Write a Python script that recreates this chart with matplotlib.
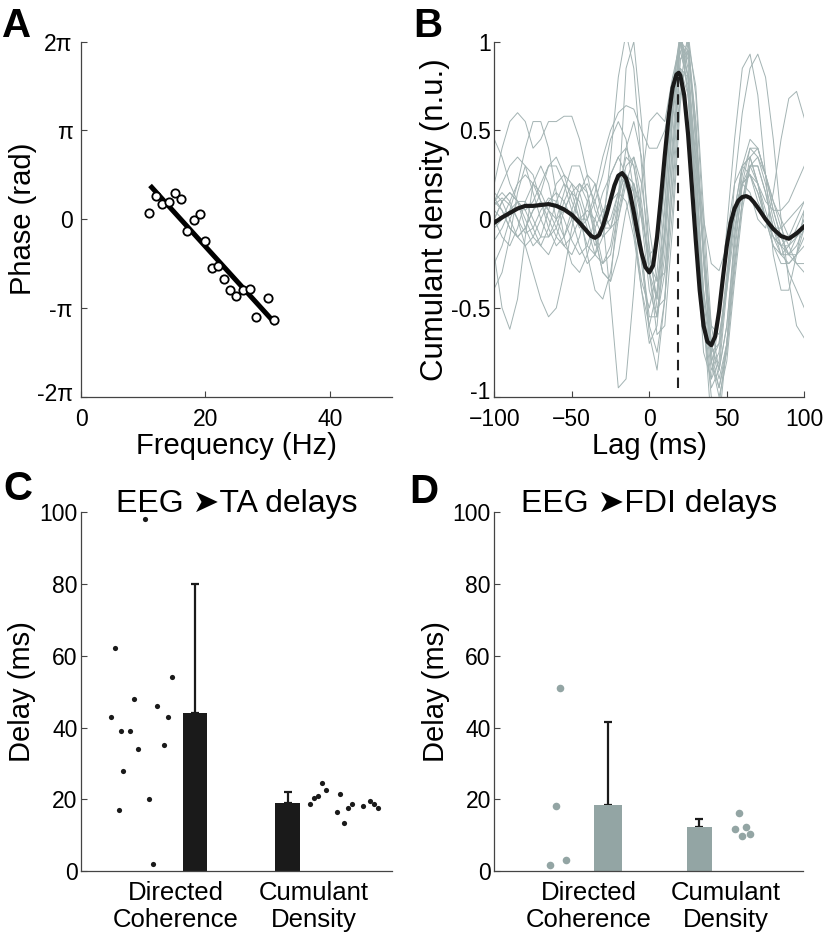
import numpy as np
import matplotlib
matplotlib.use('Agg')
import matplotlib.pyplot as plt
from matplotlib.transforms import ScaledTranslation

plt.rcParams['font.family'] = ['Liberation Sans', 'DejaVu Sans']

# ---- panel A: phase vs frequency ----
freq = [11, 12, 13, 14.2, 15.1, 16, 17, 18.1, 19.1, 20, 21, 22, 23, 24, 25, 26.1, 27.1, 28.1, 30.1, 31.1]
phase_pi = [0.075, 0.26, 0.17, 0.19, 0.29, 0.23, -0.13, -0.01, 0.06, -0.24, -0.55, -0.53,
            -0.67, -0.80, -0.87, -0.80, -0.79, -1.10, -0.89, -1.14]
fit_freq = [11.1, 31.3]
fit_phase_pi = [0.38, -1.18]

# ---- panel B: cumulant density ----
lag_mean = [-100, -95, -90, -85, -80, -75, -70, -65, -60, -55, -50, -45, -40, -37.5, -35, -32.5,
            -30, -27.5, -25, -22.5, -20, -17.5, -15, -12.5, -10, -7.5, -5, -2.5, 0, 2.5, 5, 7.5,
            10, 12.5, 15, 17.5, 19, 20, 22.5, 25, 27.5, 30, 32.5, 35, 37.5, 40, 42.5, 45, 47.5,
            50, 52.5, 55, 57.5, 60, 62.5, 65, 67.5, 70, 75, 80, 85, 90, 95, 100]
cum_mean = [-0.02, 0.01, 0.035, 0.06, 0.075, 0.075, 0.08, 0.085, 0.075, 0.055, 0.025, -0.02,
            -0.07, -0.095, -0.105, -0.09, -0.04, 0.03, 0.11, 0.19, 0.245, 0.26, 0.23, 0.15, 0.04,
            -0.08, -0.19, -0.27, -0.30, -0.26, -0.10, 0.12, 0.36, 0.58, 0.74, 0.815, 0.825, 0.81,
            0.70, 0.48, 0.18, -0.12, -0.40, -0.60, -0.69, -0.71, -0.66, -0.52, -0.33, -0.15,
            -0.02, 0.06, 0.105, 0.125, 0.13, 0.12, 0.095, 0.065, 0.0, -0.055, -0.095, -0.11,
            -0.08, -0.04]
peak_lag = 18.7

lag = list(range(-100, 101, 5))
subj_1 = [0.10, 0.20, 0.30, 0.35, 0.30, 0.15, 0.00, -0.10, -0.05, 0.10, 0.20, 0.15, 0.00, -0.15, -0.05, 0.35, 0.80, 1.05, 0.85, 0.30, -0.30, -0.45, -0.05, 0.60, 1.05, 0.80, 0.10, -0.60, -0.95, -0.85, -0.40, 0.05, 0.30, 0.35, 0.20, 0.00, -0.15, -0.20, -0.15, -0.05, 0.05]
subj_2 = [0.00, -0.10, -0.15, -0.05, 0.10, 0.20, 0.15, 0.05, 0.00, 0.05, 0.15, 0.20, 0.10, -0.10, -0.30, -0.35, 0.10, 0.85, 1.00, 0.55, -0.20, -0.45, 0.05, 0.75, 1.05, 0.70, -0.10, -0.75, -0.90, -0.55, -0.10, 0.20, 0.30, 0.25, 0.10, 0.00, -0.05, -0.05, 0.00, 0.05, 0.10]
subj_3 = [0.20, 0.40, 0.55, 0.60, 0.55, 0.40, 0.45, 0.55, 0.55, 0.58, 0.58, 0.45, 0.25, 0.05, -0.05, 0.00, 0.15, 0.25, 0.20, 0.00, -0.20, -0.15, 0.20, 0.70, 1.05, 0.85, 0.25, -0.40, -0.75, -0.70, -0.35, 0.00, 0.20, 0.25, 0.15, 0.00, -0.10, -0.15, -0.10, 0.00, 0.10]
subj_4 = [-0.20, -0.50, -0.62, -0.45, -0.10, 0.20, 0.30, 0.20, 0.00, -0.10, 0.00, 0.15, 0.20, 0.10, -0.05, -0.05, 0.10, 0.30, 0.35, 0.10, -0.30, -0.55, -0.30, 0.30, 0.90, 0.95, 0.50, -0.20, -0.75, -0.95, -0.75, -0.30, 0.10, 0.35, 0.40, 0.25, 0.05, -0.10, -0.20, -0.20, -0.15]
subj_5 = [0.10, 0.05, -0.05, -0.10, -0.05, 0.05, 0.10, 0.05, -0.05, -0.15, -0.20, -0.10, 0.10, 0.20, 0.00, -0.45, -0.95, -0.90, -0.40, 0.20, 0.55, 0.60, 0.55, 0.80, 1.00, 0.70, 0.10, -0.50, -0.85, -0.75, -0.35, 0.05, 0.30, 0.35, 0.20, 0.00, -0.15, -0.25, -0.25, -0.20, -0.10]
subj_6 = [-0.05, 0.00, 0.10, 0.20, 0.25, 0.20, 0.10, 0.00, -0.10, -0.15, -0.10, 0.00, 0.05, 0.00, -0.10, -0.05, 0.15, 0.35, 0.30, 0.00, -0.40, -0.55, -0.20, 0.45, 1.00, 0.90, 0.30, -0.40, -0.75, -0.55, -0.05, 0.45, 0.85, 0.93, 0.70, 0.25, -0.20, -0.40, -0.40, -0.20, 0.05]
subj_7 = [0.15, 0.10, 0.00, -0.10, -0.15, -0.10, 0.00, 0.10, 0.15, 0.10, 0.00, -0.15, -0.25, -0.20, 0.00, 0.25, 0.35, 0.25, -0.05, -0.40, -0.60, -0.40, 0.10, 0.65, 0.95, 0.75, 0.10, -0.55, -0.90, -0.80, -0.35, 0.20, 0.60, 0.85, 0.93, 0.80, 0.45, 0.00, -0.35, -0.60, -0.67]
subj_8 = [0.00, 0.10, 0.15, 0.10, 0.00, -0.10, -0.15, -0.05, 0.10, 0.20, 0.15, 0.00, -0.15, -0.20, -0.10, 0.10, 0.25, 0.20, -0.05, -0.35, -0.50, -0.30, 0.20, 0.75, 1.00, 0.80, 0.20, -0.45, -0.80, -0.70, -0.30, 0.05, 0.20, 0.15, 0.00, -0.05, 0.15, 0.45, 0.68, 0.72, 0.57]
subj_9 = [0.45, 0.35, 0.20, 0.10, 0.05, 0.10, 0.20, 0.30, 0.30, 0.20, 0.05, -0.05, 0.00, 0.15, 0.35, 0.50, 0.60, 0.64, 0.62, 0.50, 0.40, 0.40, 0.50, 0.70, 0.85, 0.70, 0.35, 0.00, -0.25, -0.29, -0.15, 0.05, 0.20, 0.25, 0.20, 0.10, 0.05, 0.05, 0.10, 0.20, 0.30]
subj_10 = [-0.39, -0.30, -0.10, 0.15, 0.30, 0.25, 0.10, -0.05, -0.15, -0.10, 0.05, 0.20, 0.15, -0.05, -0.25, -0.20, 0.05, 0.25, 0.15, -0.20, -0.55, -0.55, -0.05, 0.60, 1.00, 0.80, 0.15, -0.55, -1.00, -1.05, -0.70, -0.25, 0.10, 0.30, 0.30, 0.15, -0.05, -0.20, -0.25, -0.20, -0.05]
subj_11 = [0.05, 0.00, 0.05, 0.20, 0.40, 0.55, 0.55, 0.40, 0.15, -0.10, -0.25, -0.30, -0.20, -0.05, 0.05, 0.10, 0.15, 0.10, -0.10, -0.40, -0.70, -0.60, -0.10, 0.55, 1.00, 0.95, 0.45, -0.25, -0.80, -0.95, -0.70, -0.25, 0.10, 0.30, 0.30, 0.15, -0.05, -0.15, -0.20, -0.25, -0.25]
subj_12 = [0.10, 0.15, 0.10, 0.00, -0.15, -0.30, -0.45, -0.55, -0.50, -0.30, -0.05, 0.15, 0.25, 0.20, 0.05, -0.05, 0.00, 0.20, 0.35, 0.20, -0.15, -0.50, -0.45, 0.05, 0.70, 0.95, 0.55, -0.15, -0.70, -0.85, -0.60, -0.15, 0.20, 0.40, 0.40, 0.25, 0.05, -0.10, -0.20, -0.15, -0.05]
subj_13 = [0.12, 0.05, -0.05, -0.10, -0.05, 0.05, 0.15, 0.30, 0.35, 0.25, 0.10, 0.00, 0.00, 0.10, 0.25, 0.45, 0.55, 0.45, 0.15, -0.25, -0.60, -0.75, -0.45, 0.20, 0.90, 1.00, 0.55, -0.20, -0.80, -1.00, -0.80, -0.35, 0.05, 0.30, 0.35, 0.25, 0.10, 0.00, -0.10, -0.10, -0.05]
subj_14 = [-0.25, -0.15, 0.00, 0.10, 0.10, 0.00, -0.10, -0.10, 0.00, 0.15, 0.30, 0.30, 0.15, -0.10, -0.30, -0.35, -0.20, 0.05, 0.20, 0.05, -0.30, -0.65, -0.60, -0.05, 0.65, 1.00, 0.75, 0.05, -0.60, -0.85, -0.60, -0.10, 0.30, 0.45, 0.40, 0.25, 0.10, -0.05, -0.15, -0.25, -0.30]
subj_15 = [0.00, 0.10, 0.15, 0.10, -0.05, -0.15, -0.10, 0.05, 0.20, 0.25, 0.20, 0.05, -0.20, -0.40, -0.45, -0.30, 0.00, 0.25, 0.20, -0.15, -0.65, -0.85, -0.45, 0.35, 1.00, 1.05, 0.40, -0.55, -1.15, -1.15, -0.70, -0.10, 0.25, 0.40, 0.35, 0.20, 0.00, -0.15, -0.30, -0.40, -0.50]
subj_16 = [0.08, 0.12, 0.08, 0.00, -0.08, -0.05, 0.05, 0.12, 0.10, 0.00, -0.12, -0.20, -0.15, 0.00, 0.15, 0.25, 0.35, 0.40, 0.30, 0.05, -0.25, -0.35, -0.10, 0.40, 0.85, 0.80, 0.35, -0.20, -0.60, -0.65, -0.40, -0.05, 0.20, 0.25, 0.15, 0.00, -0.10, -0.15, -0.15, -0.10, 0.00]
subj_17 = [-0.12, -0.05, 0.05, 0.10, 0.05, -0.05, -0.15, -0.20, -0.10, 0.05, 0.15, 0.10, -0.05, -0.20, -0.25, -0.15, 0.10, 0.40, 0.55, 0.35, -0.05, -0.35, -0.30, 0.15, 0.75, 1.05, 0.70, -0.05, -0.70, -0.90, -0.70, -0.20, 0.20, 0.30, 0.20, 0.05, -0.10, -0.20, -0.20, -0.10, 0.00]
subjects = [subj_1, subj_2, subj_3, subj_4, subj_5, subj_6, subj_7, subj_8, subj_9,
            subj_10, subj_11, subj_12, subj_13, subj_14, subj_15, subj_16, subj_17]

# ---- panels C/D: delays ----
categories = ['Directed\nCoherence', 'Cumulant\nDensity']
ta_mean = [44.1, 19.05]
ta_err = [36.0, 2.95]
ta_dc_x = [0.0975, 0.109, 0.122, 0.128, 0.134, 0.159, 0.170, 0.182, 0.207, 0.220, 0.232, 0.243, 0.268, 0.281, 0.293]
ta_dc_y = [43.0, 62.1, 17.0, 39.1, 28.0, 39.1, 48.0, 34.1, 98.0, 20.1, 2.0, 46.1, 35.0, 43.0, 54.1]
ta_cd_x = [0.736, 0.748, 0.761, 0.774, 0.787, 0.822, 0.834, 0.847, 0.858, 0.870, 0.908, 0.930, 0.943, 0.956]
ta_cd_y = [18.6, 20.4, 20.9, 24.4, 22.6, 16.5, 21.6, 13.3, 17.5, 18.6, 18.1, 19.6, 18.6, 17.7]

fdi_mean = [18.4, 12.2]
fdi_err = [23.0, 2.4]
fdi_dc_x = [0.181, 0.200, 0.214, 0.233]
fdi_dc_y = [1.7, 18.1, 51.0, 3.1]
fdi_cd_x = [0.778, 0.791, 0.803, 0.816, 0.827]
fdi_cd_y = [11.8, 16.2, 9.8, 12.3, 10.3]

GREY = '#93a5a4'
TRACE = '#a3b3b3'
TICK_FS = 16.5
LAB_FS = 21


def style(ax, pad=2.5):
    for s in ['top', 'right']:
        ax.spines[s].set_visible(False)
    for s in ['left', 'bottom']:
        ax.spines[s].set_color('#444444')
        ax.spines[s].set_linewidth(0.9)
    ax.tick_params(direction='in', length=4, width=0.8, color='#444444',
                   labelsize=TICK_FS, pad=pad)


def raise_bottom_label(ax, px):
    # lift the lowest y tick label a little, as in the original
    lab = ax.get_yticklabels()[0]
    lab.set_transform(lab.get_transform() + ScaledTranslation(0, px / 100, fig.dpi_scale_trans))


fig = plt.figure(figsize=(8.26, 9.36), dpi=100)
W, H = 826, 936


def add_axes(l, r, t, b):
    return fig.add_axes([l / W, 1 - b / H, (r - l) / W, (b - t) / H])


# A
axA = add_axes(81, 392, 41.7, 396.7)
axA.plot(fit_freq, np.array(fit_phase_pi) * np.pi, color='black', lw=3.6, solid_capstyle='butt', zorder=2)
axA.plot(freq, np.array(phase_pi) * np.pi, 'o', ms=6, mfc='white', mec='black', mew=1.3, zorder=3)
axA.set_xlim(0, 50)
axA.set_ylim(-2 * np.pi, 2 * np.pi)
axA.set_xticks([0, 20, 40])
axA.set_yticks(np.array([-2, -1, 0, 1, 2]) * np.pi)
axA.set_yticklabels(['-2π', '-π', '0', 'π', '2π'])
style(axA, pad=6)
axA.tick_params(axis='x', pad=8)
axA.set_xlabel('Frequency (Hz)', fontsize=LAB_FS, labelpad=1)
axA.set_ylabel('Phase (rad)', fontsize=LAB_FS, labelpad=0)
raise_bottom_label(axA, 5)

# B
axB = add_axes(494.3, 804.3, 41.7, 396.7)
for tr in subjects:
    axB.plot(lag, tr, color=TRACE, lw=0.7, zorder=1)
axB.plot([peak_lag, peak_lag], [-0.95, 0.8], color='#222222', lw=1.5, ls=(0, (5, 3.5)), zorder=2)
axB.plot(lag_mean, cum_mean, color='#1a1a1a', lw=3, zorder=3)
axB.set_xlim(-100, 100)
axB.set_ylim(-1, 1)
axB.set_xticks([-100, -50, 0, 50, 100])
axB.set_yticks([-1, -0.5, 0, 0.5, 1])
axB.set_yticklabels(['-1', '-0.5', '0', '0.5', '1'])
style(axB)
axB.tick_params(axis='x', pad=8)
axB.set_xlabel('Lag (ms)', fontsize=LAB_FS, labelpad=1)
axB.set_ylabel('Cumulant density (n.u.)', fontsize=22.5, labelpad=1)
raise_bottom_label(axB, 7)

# C / D
cat_x = [0.305, 0.75]
bar_x = [0.367, 0.664]


def delay_panel(ax, means, errs, color, dcx, dcy, cdx, cdy, dot_s, title, widths):
    ax.bar(bar_x, means, width=widths, color=color, zorder=2)
    for x, m, e in zip(bar_x, means, errs):
        ax.errorbar(x, m, yerr=[[0], [e]], color='#1a1a1a', lw=1.6, capsize=3.2,
                    capthick=1.6, zorder=1)
    ax.scatter(dcx, dcy, s=dot_s, color=color, linewidths=0, zorder=3)
    ax.scatter(cdx, cdy, s=dot_s, color=color, linewidths=0, zorder=3)
    ax.set_xlim(0, 1)
    ax.set_ylim(0, 100)
    ax.set_yticks([0, 20, 40, 60, 80, 100])
    style(ax)
    ax.set_xticks(cat_x)
    ax.set_xticklabels(categories, fontsize=18.5, linespacing=1.15)
    ax.tick_params(axis='x', length=0, pad=7)
    ax.set_ylabel('Delay (ms)', fontsize=LAB_FS, labelpad=2)
    ax.text(0.5, 1.0, title, transform=ax.transAxes, ha='center', va='baseline',
            fontsize=23)


axC = add_axes(81, 392, 512.3, 871)
delay_panel(axC, ta_mean, ta_err, '#1a1a1a', ta_dc_x, ta_dc_y, ta_cd_x, ta_cd_y, 14,
            'EEG ➤TA delays', [0.079, 0.082])
axD = add_axes(494.3, 803.3, 512.3, 871)
delay_panel(axD, fdi_mean, fdi_err, GREY, fdi_dc_x, fdi_dc_y, fdi_cd_x, fdi_cd_y, 30,
            'EEG ➤FDI delays', [0.091, 0.082])

# panel letters
for letter, x, y in [('A', 2, 37), ('B', 413, 37), ('C', 3, 500), ('D', 409, 503)]:
    fig.text(x / W, 1 - y / H, letter, fontsize=29, fontweight='bold', va='baseline')

fig.savefig('out.png', dpi=100)
